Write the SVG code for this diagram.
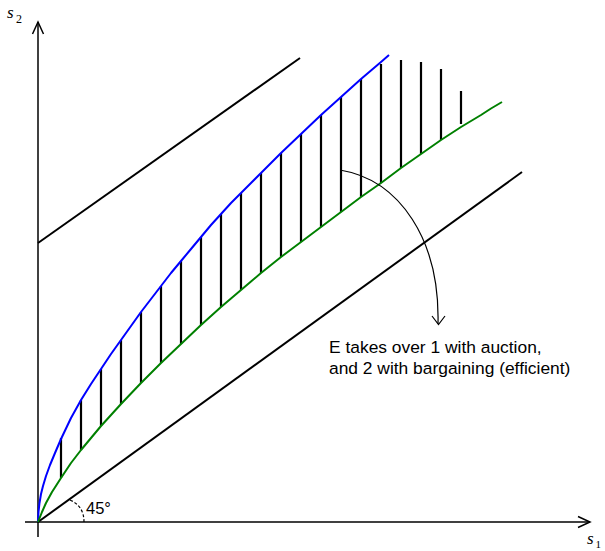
<svg xmlns="http://www.w3.org/2000/svg" width="605" height="551" viewBox="0 0 605 551">
<style>
.ax{fill:none;stroke:#000;stroke-width:1.5}
.ln{fill:none;stroke:#000;stroke-width:2}
.hatch{fill:none;stroke:#000;stroke-width:2.2}
.blue{fill:none;stroke:#0000ff;stroke-width:2;stroke-linejoin:round}
.green{fill:none;stroke:#008000;stroke-width:2;stroke-linejoin:round}
.lbl{font-family:"Liberation Sans",Arial,sans-serif;fill:#000}
.var{font-family:"Liberation Serif","Times New Roman",serif;font-style:italic;fill:#000}
.sub{font-family:"Liberation Serif","Times New Roman",serif;fill:#000}
</style>
<rect width="605" height="551" fill="#fff"/>
<g id="axes">
<line class="ax" x1="38" y1="537" x2="38" y2="22"/>
<polyline class="ax" points="32.5,34 38,22 43.5,34"/>
<line class="ax" x1="25" y1="522" x2="590" y2="522"/>
<polyline class="ax" points="578,516.5 590,522 578,527.5"/>
<text class="var" x="7" y="18" font-size="17">s</text>
<text class="sub" x="16" y="23" font-size="12">2</text>
<text class="var" x="587" y="544" font-size="17">s</text>
<text class="sub" x="595.5" y="548" font-size="11">1</text>
</g>
<g id="hatching">
<path class="hatch" d="M61,438V478M81,400V450M101,369V426M121,340V404M141,312V383M161,286V363M181,261V344M201,237V325M221,214V307M241,193V290M261,173V273M281,153V257M301,134V242M321,115V227M341,97V212M361,79V197M381,64V183M401,60V168M421,62V154M441,69V140M461,91V124"/>
</g>
<g id="upper-line">
<line class="ln" x1="38" y1="243" x2="300" y2="58"/>
</g>
<g id="diagonal-45">
<line class="ln" x1="38" y1="522" x2="522" y2="172"/>
<path d="M70,500 Q84,506 84,522" fill="none" stroke="#000" stroke-width="1.2" stroke-dasharray="3,2"/>
<text class="lbl" x="86" y="514" font-size="16.5">45°</text>
</g>
<g id="blue-curve">
<polyline class="blue" points="38,522 38.5,512 39.5,503 41,494 43,486 46,476 50,465 55,453 61,439 71,418 81,400 91,384 101,369 111,354 121,340 131,326 141,312 151,299 161,286 171,273 181,261 191,249 201,237 211,225 221,214 231,203 241,193 251,183 261,173 271,163 281,153 291,143.5 301,134 311,124.5 321,115 331,106 341,97 351,88 361,79 371,70.5 381,62 389,55"/>
</g>
<g id="green-curve">
<polyline class="green" points="38,522 40,517 42,512 46,503 52,492 61,478 71,463 81,450 91,438 101,426 111,415 121,404 131,393.5 141,383 151,373 161,363 171,353.5 181,344 191,334.5 201,325 211,316 221,307 231,298.5 241,290 251,281.5 261,273 271,265 281,257 291,249.5 301,242 311,234.5 321,227 331,219.5 341,212 351,204.5 361,197 371,190 381,183 391,175.5 401,168 411,161 421,154 431,147 441,140 451,133.5 461,127 471,121 481,115 491,108.5 502,102"/>
</g>
<g id="annotation">
<path d="M340,170 C400,180 440,240 438,324" fill="none" stroke="#000" stroke-width="1.2"/>
<polyline points="432,316 438.5,324.5 445,316" fill="none" stroke="#000" stroke-width="1.2"/>
<text class="lbl" x="329" y="352.5" font-size="17.4">E takes over 1 with auction,</text>
<text class="lbl" x="329" y="374" font-size="17.4">and 2 with bargaining (efficient)</text>
</g>
</svg>
